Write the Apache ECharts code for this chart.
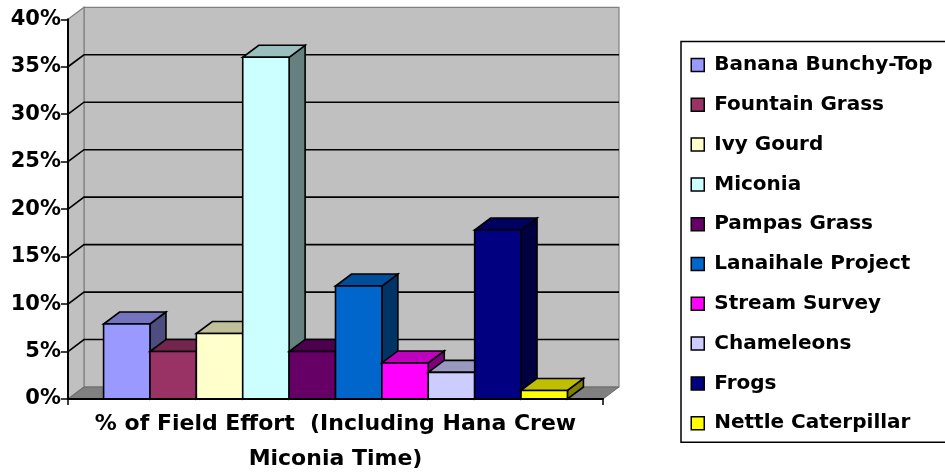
<!DOCTYPE html>
<html>
<head>
<meta charset="utf-8">
<script src="https://cdn.jsdelivr.net/npm/echarts@6/dist/echarts.min.js"></script>
<style>
  html, body { margin: 0; padding: 0; background: #ffffff; }
  #chart { width: 945px; height: 476px; }
</style>
</head>
<body>
<div id="chart"></div>
<script>
// ---- Data ----
const CATEGORY_LABEL = ['% of Field Effort  (Including Hana Crew\nMiconia Time)'];
const SERIES_NAMES = ['Banana Bunchy-Top', 'Fountain Grass', 'Ivy Gourd', 'Miconia', 'Pampas Grass',
  'Lanaihale Project', 'Stream Survey', 'Chameleons', 'Frogs', 'Nettle Caterpillar'];
const SERIES_VALUES = [0.079, 0.050, 0.069, 0.360, 0.050, 0.119, 0.038, 0.028, 0.178, 0.009];
const Y_TICKS = [0, 0.05, 0.10, 0.15, 0.20, 0.25, 0.30, 0.35, 0.40];

// ---- Styles ----
const FRONT_COLORS = ['#9999FF', '#993366', '#FFFFCC', '#CCFFFF', '#660066',
  '#0066CC', '#FF00FF', '#CCCCFF', '#000080', '#FFFF00'];
const DX = 16, DY = -12;          // 3D depth offset
const BAR_FRAC = 0.0867;          // bar width as fraction of category band
const FONT = '"DejaVu Sans", "Liberation Sans", Arial, sans-serif';

function shade(hex, k) {
  const n = parseInt(hex.slice(1), 16);
  const r = Math.round(((n >> 16) & 255) * k);
  const g = Math.round(((n >> 8) & 255) * k);
  const b = Math.round((n & 255) * k);
  return 'rgb(' + r + ',' + g + ',' + b + ')';
}

const chart = echarts.init(document.getElementById('chart'), null, { renderer: 'canvas' });

// Walls (back wall, side wall, floor)
const wallSeries = {
  type: 'custom',
  silent: true,
  clip: false,
  z: 1,
  data: [[0, 0]],
  renderItem: function (params, api) {
    const cs = params.coordSys;
    const xL = cs.x, xR = cs.x + cs.width;
    const yT = api.coord([0, Y_TICKS[Y_TICKS.length - 1]])[1];
    const y0 = api.coord([0, Y_TICKS[0]])[1];
    return {
      type: 'group',
      children: [
        { type: 'polygon', shape: { points: [[xL + DX, yT + DY], [xR + DX, yT + DY], [xR + DX, y0 + DY], [xL + DX, y0 + DY]] },
          style: { fill: '#C0C0C0', stroke: '#808080', lineWidth: 1.2 } },
        { type: 'polygon', shape: { points: [[xL, yT], [xL + DX, yT + DY], [xL + DX, y0 + DY], [xL, y0]] },
          style: { fill: '#C0C0C0', stroke: '#808080', lineWidth: 1.2 } },
        { type: 'polygon', shape: { points: [[xL, y0], [xR, y0], [xR + DX, y0 + DY], [xL + DX, y0 + DY]] },
          style: { fill: '#808080', stroke: '#6a6a6a', lineWidth: 1 } }
      ]
    };
  }
};

// Gridlines on back wall and side wall
const gridSeries = {
  type: 'custom',
  silent: true,
  clip: false,
  z: 2,
  data: Y_TICKS.slice(1, -1).map(function (t) { return [0, t]; }),
  renderItem: function (params, api) {
    const cs = params.coordSys;
    const xL = cs.x, xR = cs.x + cs.width;
    const y = api.coord([0, api.value(1)])[1];
    return {
      type: 'group',
      children: [
        { type: 'polyline', shape: { points: [[xL, y], [xL + DX, y + DY], [xR + DX, y + DY]] },
          style: { stroke: '#000', lineWidth: 1.6, fill: null } }
      ]
    };
  }
};

const barSeries = SERIES_NAMES.map(function (name, i) {
  const col = FRONT_COLORS[i];
  const topCol = shade(col, 0.75);
  const sideCol = shade(col, 0.5);
  return {
    name: name,
    type: 'custom',
    clip: false,
    z: 3 + i,
    itemStyle: { color: col },
    data: [[0, SERIES_VALUES[i]]],
    renderItem: function (params, api) {
      const base = api.coord([api.value(0), 0]);
      const top = api.coord([api.value(0), api.value(1)]);
      const band = api.size([1, 0])[0];
      const w = band * BAR_FRAC;
      const n = SERIES_NAMES.length;
      const x0 = base[0] + (i - n / 2) * w;
      const x1 = x0 + w;
      const y0 = base[1], yv = top[1];
      const stroke = { stroke: '#000', lineWidth: 1.6, lineJoin: 'miter' };
      return {
        type: 'group',
        children: [
          { type: 'polygon', shape: { points: [[x1, yv], [x1 + DX, yv + DY], [x1 + DX, y0 + DY], [x1, y0]] },
            style: Object.assign({ fill: sideCol }, stroke) },
          { type: 'polygon', shape: { points: [[x0, yv], [x1, yv], [x1 + DX, yv + DY], [x0 + DX, yv + DY]] },
            style: Object.assign({ fill: topCol }, stroke) },
          { type: 'polygon', shape: { points: [[x0, yv], [x1, yv], [x1, y0], [x0, y0]] },
            style: Object.assign({ fill: col }, stroke) }
        ]
      };
    }
  };
});

const option = {
  backgroundColor: '#ffffff',
  animation: false,
  grid: { left: 68, right: 342, top: 19.3, bottom: 77, containLabel: false, outerBoundsMode: 'none' },
  xAxis: {
    type: 'category',
    data: CATEGORY_LABEL,
    boundaryGap: true,
    axisLine: { show: true, lineStyle: { color: '#000', width: 2 } },
    axisTick: { show: true, length: 6, lineStyle: { color: '#000', width: 1.5 } },
    axisLabel: {
      margin: 8,
      color: '#000',
      fontFamily: FONT,
      fontWeight: 'bold',
      fontSize: 22,
      lineHeight: 35,
      align: 'center'
    },
    splitLine: { show: false },
    z: 20
  },
  yAxis: {
    type: 'value',
    min: 0,
    max: 0.4,
    interval: 0.05,
    axisLine: { show: true, lineStyle: { color: '#000', width: 2 } },
    axisTick: { show: true, length: 7, lineStyle: { color: '#000', width: 1.5 } },
    axisLabel: {
      margin: 7,
      color: '#000',
      fontFamily: FONT,
      fontWeight: 'bold',
      fontSize: 21,
      formatter: function (v) { return Math.round(v * 100) + '%'; }
    },
    splitLine: { show: false },
    z: 20
  },
  legend: {
    orient: 'vertical',
    left: 681,
    top: 41.5,
    padding: [13.5, 40, 9, 9.5],
    backgroundColor: '#ffffff',
    borderColor: '#000',
    borderWidth: 1.5,
    borderRadius: 0,
    itemWidth: 13,
    itemHeight: 13,
    itemGap: 19.8,
    icon: 'rect',
    itemStyle: { borderColor: '#000', borderWidth: 1.5 },
    data: SERIES_NAMES,
    selectedMode: false,
    textStyle: {
      color: '#000',
      fontFamily: FONT,
      fontWeight: 'bold',
      fontSize: 20,
      lineHeight: 20,
      padding: [0, 0, 0, 5]
    }
  },
  series: [wallSeries, gridSeries].concat(barSeries)
};

chart.setOption(option);
</script>
</body>
</html>
